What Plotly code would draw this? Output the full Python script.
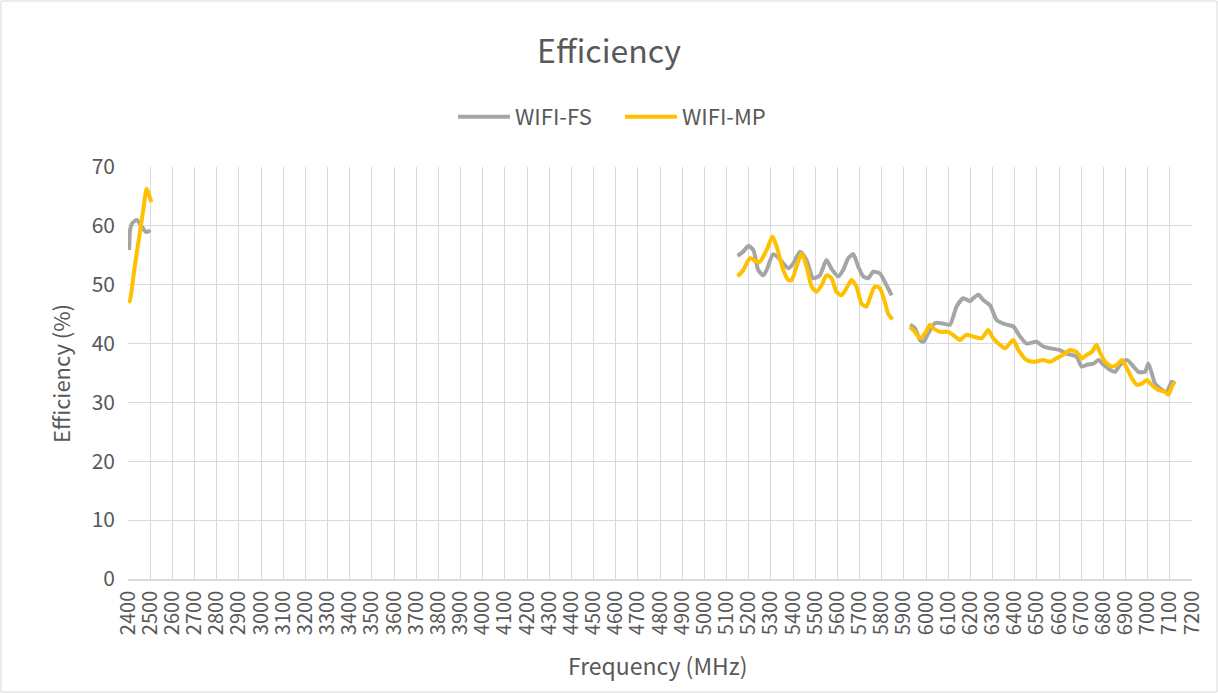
import plotly.graph_objects as go

# WIFI-FS (grey) — segments separated by None
fs_freq = [2405, 2410, 2420, 2440, 2460, 2480, 2490, 2500, None,
           5150, 5175, 5198, 5221, 5243, 5266, 5281, 5311, 5341, 5379, 5401, 5431, 5461,
           5491, 5521, 5551, 5574, 5604, 5626, 5649, 5672, 5694, 5717, 5739, 5762, 5792,
           5822, 5845, None,
           5928, 5950, 5973, 5988, 6010, 6041, 6078, 6108, 6138, 6168, 6198, 6213, 6236,
           6258, 6289, 6319, 6364, 6394, 6424, 6454, 6499, 6529, 6559, 6604, 6634, 6679,
           6702, 6726, 6756, 6779, 6801, 6831, 6853, 6876, 6906, 6936, 6958, 6988, 7003,
           7018, 7033, 7056, 7086, 7108, 7123]
fs_eff = [55.9, 59.5, 60.5, 61.0, 60.0, 59.0, 59.0, 59.3, None,
          54.9, 55.6, 56.6, 55.9, 52.5, 51.6, 52.5, 55.2, 54.3, 52.8, 53.6, 55.6, 54.2,
          51.1, 51.6, 54.2, 52.7, 51.4, 52.5, 54.5, 55.2, 53.1, 51.4, 51.1, 52.2, 51.9,
          49.9, 48.2, None,
          43.2, 42.6, 40.6, 40.3, 41.7, 43.5, 43.4, 43.2, 46.3, 47.7, 47.2, 47.7, 48.3,
          47.4, 46.5, 44.0, 43.2, 42.9, 41.2, 40.0, 40.3, 39.5, 39.2, 38.9, 38.3, 37.8,
          36.1, 36.4, 36.6, 37.2, 36.4, 35.5, 35.2, 36.4, 37.2, 36.1, 35.2, 35.2, 36.6,
          35.0, 33.2, 32.4, 31.8, 33.5, 33.2]

# WIFI-MP (yellow)
mp_freq = [2403, 2410, 2430, 2450, 2470, 2484, 2493, 2505, None,
           5150, 5176, 5206, 5236, 5251, 5281, 5308, 5326, 5356, 5379, 5394, 5416, 5439,
           5461, 5484, 5506, 5529, 5551, 5574, 5596, 5619, 5641, 5664, 5686, 5709, 5731,
           5754, 5769, 5792, 5814, 5829, 5849, None,
           5928, 5950, 5973, 5995, 6018, 6033, 6063, 6101, 6131, 6153, 6183, 6213, 6251,
           6281, 6303, 6333, 6356, 6394, 6417, 6454, 6484, 6529, 6559, 6589, 6619, 6649,
           6679, 6702, 6726, 6749, 6769, 6787, 6809, 6839, 6862, 6884, 6906, 6929, 6951,
           6974, 6996, 7018, 7048, 7078, 7093, 7116, 7123]
mp_eff = [46.9, 47.5, 53.0, 58.0, 63.0, 66.3, 65.5, 64.0, None,
          51.4, 52.5, 54.5, 53.9, 53.9, 55.9, 58.2, 56.5, 52.5, 50.8, 50.8, 53.1, 55.3,
          53.1, 49.7, 48.8, 49.9, 51.6, 51.1, 48.8, 48.2, 49.4, 50.8, 49.7, 46.8, 46.3,
          48.5, 49.7, 49.4, 47.1, 45.1, 44.1, None,
          42.8, 42.0, 40.9, 41.7, 43.2, 42.6, 42.0, 42.0, 41.2, 40.6, 41.5, 41.2, 40.9,
          42.3, 40.9, 39.8, 39.2, 40.6, 38.9, 37.2, 36.9, 37.2, 36.9, 37.5, 38.1, 38.9,
          38.6, 37.5, 38.1, 38.6, 39.8, 38.3, 36.9, 36.1, 36.4, 37.2, 35.8, 34.1, 33.0,
          33.2, 33.8, 33.0, 32.1, 31.8, 31.3, 33.2, 33.0]

x_ticks = list(range(2400, 7201, 100))
y_ticks = list(range(0, 71, 10))

FONT = "Noto Sans CJK SC"
TXT = "#595959"
GRID = "#D9D9D9"

fig = go.Figure()
fig.add_trace(go.Scatter(x=fs_freq, y=fs_eff, mode="lines", name="WIFI-FS",
                         line=dict(color="#A5A5A5", width=4, shape="spline", smoothing=0.6),
                         connectgaps=False))
fig.add_trace(go.Scatter(x=mp_freq, y=mp_eff, mode="lines", name="WIFI-MP",
                         line=dict(color="#FFC000", width=4, shape="spline", smoothing=0.6),
                         connectgaps=False))

W, H = 1218, 693
L, R, T, B = 128, 26, 167, 114
pw, ph = W - L - R, H - T - B

fig.update_layout(
    width=W, height=H,
    margin=dict(l=L, r=R, t=T, b=B, autoexpand=False),
    paper_bgcolor="white", plot_bgcolor="white",
    font=dict(family=FONT, color=TXT, size=20),
    title=dict(text="Efficiency", x=0.5, xanchor="center", y=1 - 52 / H, yanchor="middle",
               font=dict(size=32, color=TXT, family=FONT)),
    legend=dict(orientation="h", x=(620 - L) / pw, xanchor="center", y=1 + 50 / ph, yanchor="middle",
                font=dict(size=22, color=TXT, family=FONT), itemwidth=52,
                entrywidth=100, entrywidthmode="pixels"),
    xaxis=dict(range=[2400, 7200], tickvals=x_ticks, ticktext=[str(v) for v in x_ticks],
               tickangle=-90, showgrid=True, gridcolor=GRID, gridwidth=1.3,
               showline=True, linecolor=GRID, linewidth=1.5, zeroline=False,
               tickfont=dict(size=20, color=TXT), automargin=False, ticklabelstandoff=2),
    yaxis=dict(range=[0, 70], tickvals=y_ticks, showgrid=True, gridcolor=GRID, gridwidth=1.3,
               zeroline=False, showline=False, ticks="", ticklabelstandoff=12,
               tickfont=dict(size=21, color=TXT), automargin=False),
    annotations=[
        dict(text="Frequency (MHz)", xref="paper", yref="paper", x=0.5 - 2 / pw,
             y=-(665 - T - ph) / ph, yanchor="middle", xanchor="center",
             showarrow=False, font=dict(size=23, color=TXT)),
        dict(text="Efficiency (%)", xref="paper", yref="paper", x=-(L - 60) / pw,
             xanchor="center", y=1 - (374 - T) / ph, yanchor="middle", textangle=-90,
             showarrow=False, font=dict(size=22, color=TXT)),
    ],
)

fig.add_shape(type="rect", xref="paper", yref="paper",
              x0=-(L - 1) / pw, x1=1 + (R - 1) / pw, y0=-(B - 1) / ph, y1=1 + (T - 1) / ph,
              line=dict(color=GRID, width=1), layer="below")

fig.write_html("out.html", config={"displayModeBar": False},
               post_script="document.body.style.margin='0';document.body.style.overflow='hidden';")
